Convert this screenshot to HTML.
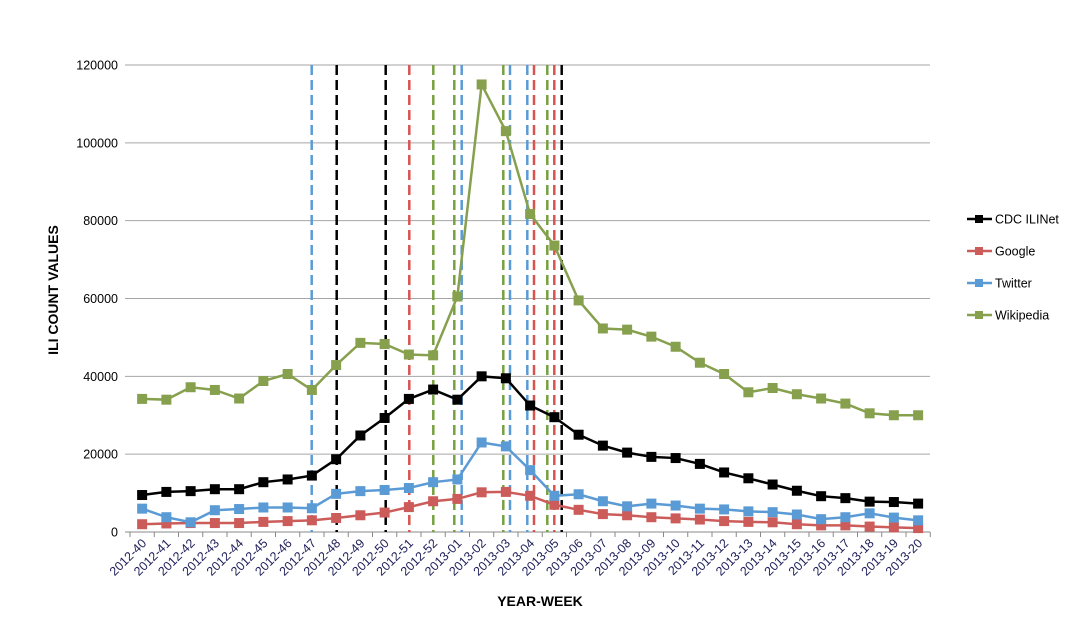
<!DOCTYPE html>
<html><head><meta charset="utf-8"><style>
body{margin:0;background:#fff;width:1069px;height:614px;overflow:hidden}
svg{font-family:"Liberation Sans",Arial,sans-serif}
</style></head><body>
<svg id="s" width="1069" height="614" xmlns="http://www.w3.org/2000/svg"></svg>
<script>
const s=document.getElementById('s');let h='';
const X0=130,DX=24.25,Y0=532,K=467/120000;
const px=i=>X0+DX*(i+0.5), py=v=>Y0-v*K;
// grid
for(let v=0;v<=120000;v+=20000){const y=py(v);h+=`<line x1="125" x2="930" y1="${y}" y2="${y}" stroke="${v?'#a6a6a6':'#888'}" stroke-width="1"/>`;
h+=`<text x="118" y="${y+4.5}" font-size="12.5" text-anchor="end" fill="#000">${v}</text>`;}
for(let i=0;i<=33;i++){const x=X0+DX*i;h+=`<line x1="${x}" x2="${x}" y1="532" y2="537" stroke="#888"/>`;}
// labels
const labs=[];for(let w=40;w<=52;w++)labs.push('2012-'+w);for(let w=1;w<=20;w++)labs.push('2013-'+(w<10?'0'+w:w));
labs.forEach((l,i)=>{const x=px(i)+5,y=544;h+=`<text x="${x}" y="${y}" font-size="12.5" fill="#1e1e5a" text-anchor="end" transform="rotate(-45 ${x} ${y})">${l}</text>`;});
// vertical dashed
const vl=[[311.7,'#5b9bd5'],[336.7,'#000'],[385.7,'#000'],[409.3,'#d9534f'],[433.3,'#77a040'],[454.3,'#77a040'],[461.7,'#5b9bd5'],[503.3,'#77a040'],[510,'#5b9bd5'],[527.3,'#5b9bd5'],[534,'#d9534f'],[547.3,'#77a040'],[554.3,'#d9534f'],[561.7,'#000']];
vl.forEach(([x,c])=>{h+=`<line x1="${x}" x2="${x}" y1="65" y2="532" stroke="${c}" stroke-width="2.5" stroke-dasharray="10,5"/>`;});
const S={
cdc:['#000',[9500,10300,10500,11000,11000,12800,13500,14500,18700,24800,29300,34200,36600,34000,40000,39500,32500,29500,25000,22200,20400,19300,19000,17500,15300,13800,12200,10600,9200,8700,7800,7700,7300]],
goo:['#cc5c5a',[2000,2200,2300,2300,2300,2600,2800,3000,3600,4300,5000,6400,7900,8500,10200,10300,9300,7000,5700,4600,4300,3800,3500,3200,2800,2600,2500,2000,1700,1700,1400,1200,1000]],
twi:['#5b9bd5',[6000,3800,2500,5600,5900,6300,6300,6100,9800,10500,10800,11300,12800,13500,23000,22000,15900,9300,9700,7900,6600,7300,6800,6000,5800,5300,5100,4500,3300,3800,4800,3700,3000]],
wik:['#86a04e',[34200,34000,37200,36500,34300,38800,40600,36500,42900,48600,48300,45600,45400,60500,115000,103000,81700,73600,59500,52300,52000,50200,47600,43500,40600,35900,37000,35400,34300,33000,30500,30000,30000]]};
['goo','twi','wik','cdc'].forEach(k=>{const [c,d]=S[k];h+=`<polyline fill="none" stroke="${c}" stroke-width="2.5" points="${d.map((v,i)=>px(i)+','+py(v)).join(' ')}"/>`;
d.forEach((v,i)=>{h+=`<rect x="${px(i)-5}" y="${py(v)-5}" width="10" height="10" fill="${c}"/>`;});});
// legend
[['CDC ILINet','#000'],['Google','#cc5c5a'],['Twitter','#5b9bd5'],['Wikipedia','#86a04e']].forEach(([t,c],i)=>{const y=219+32*i;
h+=`<line x1="967" x2="992" y1="${y}" y2="${y}" stroke="${c}" stroke-width="2.5"/><rect x="975" y="${y-4}" width="8" height="8" fill="${c}"/><text x="995" y="${y+4.5}" font-size="12.5">${t}</text>`;});
h+=`<text x="540" y="606" font-size="14" font-weight="bold" text-anchor="middle">YEAR-WEEK</text>`;
h+=`<text x="58" y="290" font-size="14" font-weight="bold" text-anchor="middle" transform="rotate(-90 58 290)">ILI COUNT VALUES</text>`;
s.innerHTML=h;
</script>
</body></html>
